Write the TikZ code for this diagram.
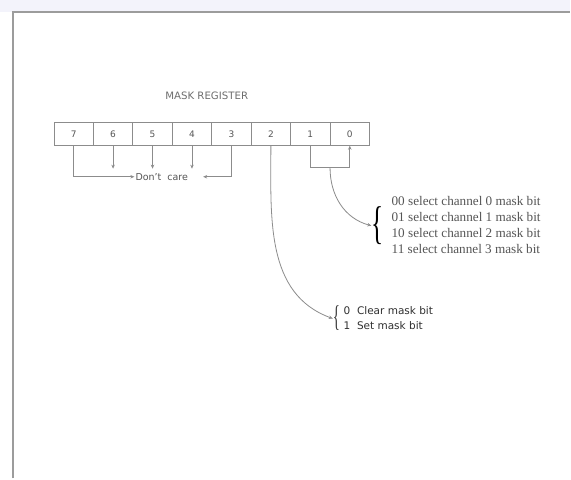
\documentclass[tikz,border=0pt]{standalone}
\usepackage{fontspec}
\setmainfont{Liberation Serif}
\setsansfont{DejaVu Sans}
\usetikzlibrary{arrows.meta,positioning,calc}
\definecolor{mkline}{HTML}{8C8C8C}
\definecolor{mktext}{HTML}{555555}
\definecolor{mkframe}{HTML}{9C9C9C}
\definecolor{mktop}{HTML}{F3F3FB}
\tikzset{
  bitcell/.style={draw=mkline,line width=0.8pt,minimum width=39.5pt,minimum height=23pt,
              inner sep=0pt,font=\sffamily\fontsize{9}{10}\selectfont,text=mktext},
  wire/.style={draw=mkline,line width=0.8pt},
  arw/.style={wire,-{Stealth[length=4pt,width=3.5pt]}},
  lbl/.style={font=\sffamily\fontsize{9.5}{12}\selectfont,text=mktext,inner sep=1pt},
  bigbrace/.style={font=\fontsize{46}{46}\selectfont,text=black,xscale=0.55,inner sep=0pt},
  smallbrace/.style={font=\fontsize{30}{30}\selectfont,text=mktext!70!black,xscale=0.5,inner sep=0pt},
  seltext/.style={font=\fontsize{13.2}{16}\selectfont,text=mktext,align=left,inner sep=0pt},
  bittext/.style={font=\sffamily\fontsize{10.5}{15}\selectfont,text=mktext!55!black,align=left,inner sep=0pt},
}

\begin{document}
\begin{tikzpicture}[x=1pt,y=-1pt]

  % ---------- page ----------
  \fill[white] (0,0) rectangle (571,479);
  \fill[mktop] (0,0) rectangle (571,12);
  \draw[mkframe,line width=1.6pt] (13,479) |- (571,12);
  \useasboundingbox (0,0) rectangle (571,479);

  % ---------- title and register cells ----------
  \node[lbl,font=\sffamily\fontsize{10.2}{12}\selectfont,text=mktext!85] (title) at (207,96) {MASK REGISTER};
  \foreach \b [count=\i from 0] in {7,6,5,4,3,2,1,0}
    {\node[bitcell] (c\b) at (54+39.5*\i+19.75,134) {\b};}

  % ---------- don't care bits ----------
  \node[lbl] (dc) at (162,177) {Don't\ \ care};
  \draw[arw] (c7.south) |- (dc.west);
  \draw[arw] (c3.south) |- ([xshift=14pt]dc.east);
  \foreach \b in {6,5,4}
    {\draw[arw] (c\b.south) -- ++(0,23);}

  % ---------- channel select bits 1,0 ----------
  \node[bigbrace] (br4) at (378,226) {\{};
  \node[seltext,anchor=west] (seltx) at (392,225)
    {00 select channel 0 mask bit\\01 select channel 1 mask bit\\
     10 select channel 2 mask bit\\11 select channel 3 mask bit};
  \draw[arw] (c1.south) -- ++(0,22) coordinate (j1) -| (c0.south);
  \coordinate (sel) at ($(j1)!0.5!(c0.south|-j1)$);
  \draw[arw] (sel) to[out=-90,in=165] (br4.west);

  % ---------- mask bit 2 ----------
  \node[smallbrace] (br2) at (337,319) {\{};
  \node[bittext,anchor=west] (bitx) at (344,318.5) {0\ \ Clear mask bit\\1\ \ Set mask bit};
  \draw[arw] (c2.south) to[out=-90,in=160] (br2.west);
\end{tikzpicture}
\end{document}
